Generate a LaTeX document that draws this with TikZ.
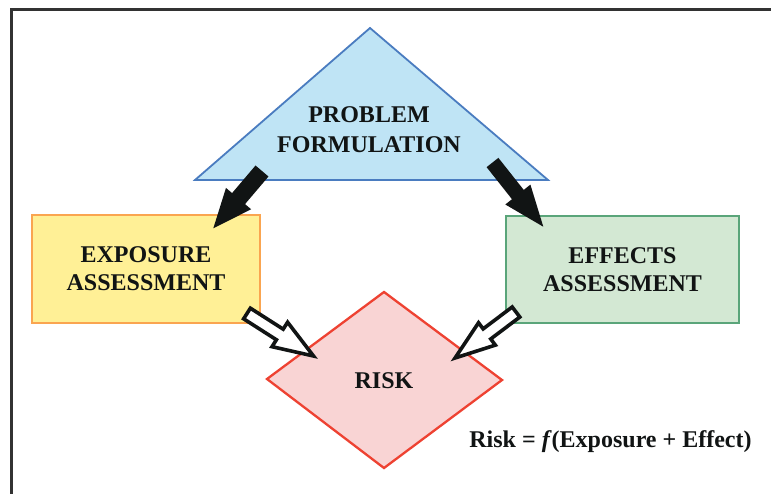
\documentclass[tikz,border=0pt]{standalone}
\usepackage{fontspec}
\setmainfont{Liberation Serif}
\usetikzlibrary{calc}
\definecolor{triFill}{RGB}{191,228,245}
\definecolor{triLine}{RGB}{74,124,192}
\definecolor{expFill}{RGB}{255,240,150}
\definecolor{expLine}{RGB}{250,165,80}
\definecolor{effFill}{RGB}{211,232,211}
\definecolor{effLine}{RGB}{90,165,122}
\definecolor{riskFill}{RGB}{249,212,212}
\definecolor{riskLine}{RGB}{238,66,50}
\definecolor{inkBlack}{RGB}{17,20,20}
\definecolor{frameGray}{RGB}{50,50,50}
\newcommand\blockarrow[6]{%
  \coordinate (ba-p) at ($(#2)!#3!(#1)$);
  \draw[#6] ($(#1)!#4!90:(#2)$) -- ($(ba-p)!#4!90:(#2)$) -- ($(ba-p)!#5!90:(#2)$) -- (#2)
    -- ($(ba-p)!#5!-90:(#2)$) -- ($(ba-p)!#4!-90:(#2)$) -- ($(#1)!#4!-90:(#2)$) -- cycle;
}
\tikzset{
  lbl/.style={font=\bfseries\fontsize{24}{28}\selectfont, align=center, inner sep=0pt, text=inkBlack},
  boxshape/.style={lbl, rectangle, line width=2pt},
  solidarrow/.style={fill=inkBlack, draw=none},
  openarrow/.style={fill=white, draw=inkBlack, line width=3.6pt, line join=miter},
  framelines/.style={draw=frameGray, line width=2.8pt}
}
\begin{document}
\begin{tikzpicture}[x=1pt,y=-1pt]
\useasboundingbox (0,0) rectangle (771,493);
\fill[white] (0,0) rectangle (771,493);
\draw[framelines] (11.3,495) -- (11.3,9.7) -- (773,9.7);

% problem formulation triangle
\coordinate (tA) at (370,28);
\coordinate (tB) at (195,180);
\coordinate (tC) at (548,180);
\filldraw[fill=triFill, draw=triLine, line width=1.8pt, line join=miter] (tA) -- (tB) -- (tC) -- cycle;
\node[lbl, font=\bfseries\fontsize{24}{30}\selectfont] (problem) at (369,129.5) {PROBLEM\\FORMULATION};

% boxes
\node[boxshape, fill=expFill, draw=expLine, minimum width=228pt, minimum height=108pt] (exposure) at (146,269) {EXPOSURE\\ASSESSMENT};
\node[boxshape, fill=effFill, draw=effLine, minimum width=233pt, minimum height=107pt] (effects) at (622.5,269.5) {EFFECTS\\ASSESSMENT};

% risk diamond
\coordinate (dL) at (267,379);
\coordinate (dT) at (384,292);
\coordinate (dR) at (502,380);
\coordinate (dB) at (384,468);
\filldraw[fill=riskFill, draw=riskLine, line width=2.3pt, line join=miter] (dL) -- (dT) -- (dR) -- (dB) -- cycle;
\node[lbl] (risk) at (384,381) {RISK};

% formula
\node[lbl, anchor=base] (formula) at (610.5,447) {Risk = \textit{f}(Exposure + Effect)};

% solid arrows
\coordinate (a1t) at (262,171);
\coordinate (a1h) at (213.3,228.3);
\coordinate (a2t) at (492.5,162.5);
\coordinate (a2h) at (543.3,226.7);
\blockarrow{a1t}{a1h}{39pt}{8.5pt}{16.5pt}{solidarrow}
\blockarrow{a2t}{a2h}{41pt}{7.5pt}{16pt}{solidarrow}

% open arrows
\coordinate (a3t) at (247,313.5);
\coordinate (a3h) at (313.5,356);
\coordinate (a4t) at (516,312);
\coordinate (a4h) at (455,358);
\blockarrow{a3t}{a3h}{40pt}{6.3pt}{14.5pt}{openarrow}
\blockarrow{a4t}{a4h}{40pt}{6.3pt}{14pt}{openarrow}
\end{tikzpicture}
\end{document}
